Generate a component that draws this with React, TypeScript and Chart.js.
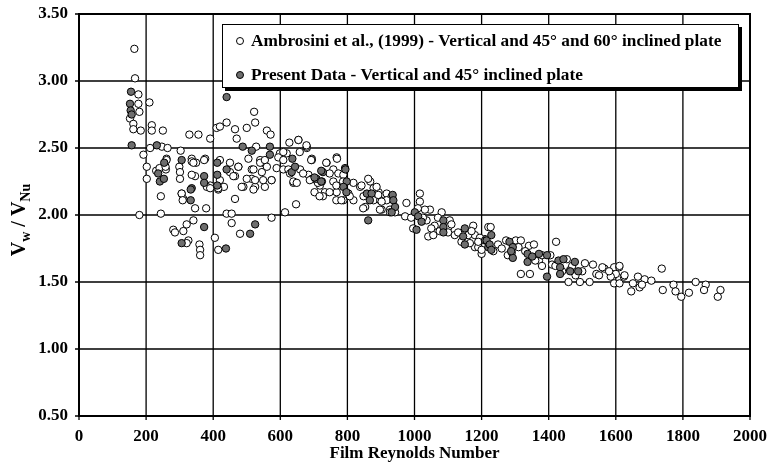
import React, { useEffect, useRef } from "react";
import { Chart, registerables } from "chart.js";

Chart.register(...registerables);

// Ambrosini et al. (1999) data: [Film Reynolds Number, Vw/VNu]
const ambrosiniRe: number[] = [];
const ambrosiniV: number[] = [];
const ambrosiniPairs: [number, number][] = [
  [165,3.24],[167,3.02],[177,2.90],[177,2.83],[180,2.77],[152,2.72],[162,2.68],[162,2.64],[184,2.63],[210,2.84],
  [217,2.67],[217,2.63],[250,2.63],[192,2.45],[212,2.50],[202,2.36],[202,2.27],[180,2.00],[244,2.01],[244,2.14],
  [230,2.33],[240,2.35],[261,2.42],[247,2.51],[264,2.50],[259,2.34],[303,2.48],[299,2.36],[301,2.32],[301,2.27],
  [329,2.60],[356,2.60],[336,2.42],[349,2.39],[376,2.42],[346,2.29],[306,2.16],[311,2.12],[346,2.05],[379,2.05],
  [391,2.22],[391,2.57],[410,2.65],[420,2.66],[440,2.69],[465,2.64],[470,2.57],[500,2.65],[522,2.77],[525,2.69],
  [560,2.63],[571,2.60],[420,2.41],[415,2.19],[432,2.21],[465,2.12],[440,2.01],[455,2.01],[455,1.94],[450,2.32],
  [475,2.36],[465,2.29],[490,2.21],[505,2.42],[515,2.34],[515,2.27],[525,2.21],[528,2.51],[540,2.41],[549,2.39],
  [545,2.32],[554,2.21],[574,2.26],[599,2.46],[619,2.46],[589,2.35],[609,2.34],[627,2.54],[654,2.56],[614,2.02],
  [647,2.08],[639,2.24],[679,2.50],[694,2.42],[281,1.89],[286,1.87],[311,1.88],[321,1.93],[341,1.96],[326,1.81],
  [321,1.79],[359,1.78],[361,1.74],[361,1.70],[405,1.83],[415,1.74],[480,1.86],[574,1.98],
  [258,2.36],[261,2.41],[306,2.16],[309,2.11],[336,2.30],[336,2.40],[341,2.39],[373,2.41],[381,2.21],[391,2.20],
  [415,2.20],[420,2.26],[450,2.39],[460,2.29],[485,2.21],[475,2.36],[500,2.27],[520,2.34],[525,2.26],[520,2.19],
  [549,2.26],[540,2.39],[554,2.41],[560,2.36],[574,2.26],[594,2.43],[609,2.41],[609,2.47],[624,2.34],[629,2.31],
  [639,2.25],[649,2.24],[654,2.56],[679,2.51],[694,2.41],[659,2.34],[684,2.30],[694,2.27],[708,2.26],[718,2.22],
  [733,2.17],[738,2.39],[768,2.43],[758,2.34],[773,2.31],[788,2.30],[758,2.25],[768,2.17],[788,2.11],[818,2.24],
  [838,2.21],[803,2.16],[818,2.11],[848,2.14],[868,2.25],[878,2.20],[893,2.17],[853,2.06],[878,2.11],[898,2.11],
  [917,2.16],[932,2.14],[902,2.04],[927,2.04],[942,2.02],
  [678,2.52],[692,2.41],[737,2.39],[769,2.42],[658,2.47],[668,2.31],[688,2.26],[712,2.24],[702,2.17],[727,2.14],
  [717,2.14],[747,2.17],[747,2.31],[767,2.22],[767,2.11],[782,2.11],[787,2.25],[807,2.14],[842,2.22],[862,2.27],
  [847,2.05],[887,2.21],[892,2.15],[897,2.04],[917,2.11],[927,2.02],[902,2.10],[976,2.09],[972,1.99],[996,1.90],
  [1016,2.16],[1016,2.10],[1046,2.04],[1036,1.96],[1041,1.84],[1056,1.85],[1031,2.04],[1081,2.02],[1105,1.96],[1120,1.85],
  [1101,1.91],[1175,1.92],[1180,1.85],[1160,1.85],[1180,1.76],[1200,1.71],[1220,1.91],[1210,1.82],
  [1000,2.00],[1025,1.98],[1060,1.92],[1075,1.88],[1110,1.93],[1130,1.87],[1140,1.80],[1165,1.79],[1190,1.76],[1195,1.83],
  [1010,2.05],[990,1.98],[1070,1.98],[1050,1.90],[1100,1.87],[1170,1.88],[1190,1.80],
  [1227,1.91],[1200,1.74],[1249,1.78],[1273,1.81],[1278,1.70],[1302,1.81],[1317,1.81],[1341,1.77],[1356,1.78],[1422,1.80],
  [1317,1.56],[1344,1.56],[1371,1.66],[1380,1.70],[1405,1.70],[1410,1.63],[1459,1.50],[1493,1.50],[1522,1.50],[1508,1.64],
  [1532,1.63],[1542,1.56],[1566,1.60],[1595,1.61],[1610,1.61],[1600,1.56],[1624,1.54],[1585,1.54],[1595,1.49],[1454,1.67],
  [1464,1.59],[1235,1.73],[1260,1.75],[1290,1.72],[1310,1.76],[1330,1.73],[1360,1.66],[1380,1.62],[1420,1.62],[1440,1.58],
  [1470,1.62],[1480,1.55],[1500,1.58],[1550,1.55],[1560,1.61],[1580,1.58],
  [1611,1.62],[1626,1.55],[1611,1.49],[1651,1.49],[1646,1.43],[1666,1.54],[1671,1.46],[1686,1.52],[1678,1.48],[1706,1.51],
  [1737,1.60],[1740,1.44],[1772,1.48],[1778,1.43],[1795,1.39],[1818,1.42],[1838,1.50],[1868,1.48],[1863,1.44],[1912,1.44],
  [1904,1.39],
];
ambrosiniPairs.forEach(([r, v]) => { ambrosiniRe.push(r); ambrosiniV.push(v); });

// Present data: [Film Reynolds Number, Vw/VNu]
const presentRe: number[] = [];
const presentV: number[] = [];
const presentPairs: [number, number][] = [
  [155,2.92],[152,2.83],[154,2.78],[157,2.75],[157,2.52],[232,2.52],[241,2.25],[253,2.27],[254,2.39],[236,2.31],
  [306,2.41],[336,2.20],[333,2.11],[373,2.29],[373,2.24],[412,2.39],[412,2.30],[412,2.22],[440,2.88],[440,2.34],
  [488,2.51],[515,2.48],[569,2.51],[569,2.45],[636,2.42],[634,2.32],[644,2.36],[708,2.27],[727,2.32],[724,2.25],
  [793,2.35],[798,2.25],[788,2.21],[862,1.96],[858,2.16],[872,2.16],[867,2.11],[935,2.15],[937,2.11],[942,2.06],
  [932,2.02],[306,1.79],[438,1.75],[510,1.86],[373,1.91],[525,1.93],[333,2.19],
  [702,2.28],[722,2.33],[722,2.25],[794,2.34],[797,2.17],[1001,2.02],[1011,1.99],[1021,1.95],[1006,1.89],
  [1086,1.96],[1086,1.91],[1086,1.87],[1150,1.90],[1145,1.84],[1150,1.78],[1210,1.81],[1220,1.76],
  [1215,1.81],[1229,1.85],[1224,1.78],[1229,1.74],[1283,1.80],[1293,1.76],[1293,1.68],[1288,1.73],
  [1337,1.71],[1337,1.65],[1351,1.69],[1371,1.71],[1395,1.70],[1395,1.54],[1429,1.66],[1434,1.61],[1434,1.56],[1444,1.67],
  [1464,1.58],[1478,1.65],[1488,1.58],
];
presentPairs.forEach(([r, v]) => { presentRe.push(r); presentV.push(v); });

const xTicks = [0, 200, 400, 600, 800, 1000, 1200, 1400, 1600, 1800, 2000];
const yTicks = [0.5, 1.0, 1.5, 2.0, 2.5, 3.0, 3.5];

const legendLabels = [
  "Ambrosini et al., (1999) - Vertical and 45\u00B0 and 60\u00B0 inclined plate",
  "Present Data - Vertical and 45\u00B0 inclined plate",
];
const xTitle = "Film Reynolds Number";

const SERIF = "'Liberation Serif', 'Times New Roman', serif";
const FILL_GRAY = "#6e6e6e";

// Grid lines drawn under the data from the chart's own scales
const gridPlugin = {
  id: "gridUnder",
  beforeDatasetsDraw(chart: any) {
    const ctx = chart.ctx as CanvasRenderingContext2D;
    const area = chart.chartArea;
    const xs = chart.scales.x;
    const ys = chart.scales.y;
    ctx.save();
    ctx.strokeStyle = "#000";
    ctx.lineWidth = 1.3;
    ctx.beginPath();
    xTicks.forEach((v) => {
      const px = xs.getPixelForValue(v);
      ctx.moveTo(px, area.top);
      ctx.lineTo(px, area.bottom + 4);
    });
    yTicks.forEach((v) => {
      const py = ys.getPixelForValue(v);
      ctx.moveTo(area.left - 4, py);
      ctx.lineTo(area.right, py);
    });
    ctx.stroke();
    ctx.restore();
  },
};

const overlayPlugin = {
  id: "overlay",
  afterDraw(chart: any) {
    const ctx = chart.ctx as CanvasRenderingContext2D;
    const area = chart.chartArea;
    ctx.save();
    // Border box
    ctx.strokeStyle = "#000";
    ctx.lineWidth = 2;
    ctx.strokeRect(area.left, area.top, area.right - area.left, area.bottom - area.top);

    // Legend box
    const lx = 222, ly = 24, lw = 517, lh = 64;
    ctx.fillStyle = "#000";
    ctx.fillRect(lx + 3, ly + 3, lw, lh);
    ctx.fillStyle = "#fff";
    ctx.fillRect(lx, ly, lw, lh);
    ctx.strokeStyle = "#000";
    ctx.lineWidth = 1;
    ctx.strokeRect(lx + 0.5, ly + 0.5, lw - 1, lh - 1);

    ctx.font = `bold 17.3px ${SERIF}`;
    ctx.textBaseline = "middle";
    ctx.textAlign = "left";
    const rows = [41, 75];
    rows.forEach((y, i) => {
      ctx.beginPath();
      ctx.arc(240, y, 3.5, 0, Math.PI * 2);
      ctx.fillStyle = i === 0 ? "#fff" : FILL_GRAY;
      ctx.fill();
      ctx.lineWidth = 1;
      ctx.strokeStyle = "#000";
      ctx.stroke();
      ctx.fillStyle = "#000";
      ctx.fillText(legendLabels[i], 251, y + 1);
    });

    // X axis title
    ctx.textAlign = "center";
    ctx.textBaseline = "middle";
    ctx.font = `bold 17px ${SERIF}`;
    ctx.fillText(xTitle, (area.left + area.right) / 2, 454);

    // Y axis title with subscripts
    ctx.translate(25, 220);
    ctx.rotate(-Math.PI / 2);
    ctx.textBaseline = "alphabetic";
    ctx.textAlign = "left";
    const big = `bold 20px ${SERIF}`;
    const small = `bold 14px ${SERIF}`;
    const parts: [string, string, number][] = [
      ["V", big, 0],
      ["w", small, 5],
      [" / ", big, 0],
      ["V", big, 0],
      ["Nu", small, 5],
    ];
    let total = 0;
    parts.forEach(([t, f]) => { ctx.font = f; total += ctx.measureText(t).width; });
    let cx = -total / 2;
    parts.forEach(([t, f, dy]) => {
      ctx.font = f;
      ctx.fillText(t, cx, dy);
      cx += ctx.measureText(t).width;
    });
    ctx.restore();
  },
};

export default function App() {
  const ref = useRef<HTMLCanvasElement | null>(null);

  useEffect(() => {
    document.body.style.margin = "0";
    const canvas = ref.current;
    if (!canvas) return;
    const chart = new Chart(canvas, {
      type: "scatter",
      data: {
        datasets: [
          {
            label: legendLabels[0],
            data: ambrosiniRe.map((r, i) => ({ x: r, y: ambrosiniV[i] })),
            backgroundColor: "#fff",
            borderColor: "#000",
            borderWidth: 1,
            pointRadius: 3.7,
            order: 2,
          },
          {
            label: legendLabels[1],
            data: presentRe.map((r, i) => ({ x: r, y: presentV[i] })),
            backgroundColor: FILL_GRAY,
            borderColor: "#000",
            borderWidth: 1,
            pointRadius: 3.7,
            order: 1,
          },
        ],
      },
      options: {
        animation: false,
        responsive: false,
        maintainAspectRatio: false,
        layout: { padding: { left: 0, right: 20, top: 14, bottom: 0 } },
        plugins: {
          legend: { display: false },
          tooltip: { enabled: false },
          title: { display: false },
        },
        scales: {
          x: {
            type: "linear",
            min: 0,
            max: 2000,
            afterBuildTicks: (scale: any) => {
              scale.ticks = xTicks.map((v) => ({ value: v }));
            },
            afterFit: (scale: any) => {
              scale.height = 48;
              scale.paddingLeft = 0;
              scale.paddingRight = 0;
            },
            grid: { display: false, tickLength: 4 },
            border: { display: false },
            ticks: {
              color: "#000",
              font: { family: SERIF, size: 17, weight: "bold" },
              padding: 6,
              maxRotation: 0,
              autoSkip: false,
              callback: (v: any) => String(v),
            },
          },
          y: {
            type: "linear",
            min: 0.5,
            max: 3.5,
            afterBuildTicks: (scale: any) => {
              scale.ticks = yTicks.map((v) => ({ value: v }));
            },
            afterFit: (scale: any) => {
              scale.width = 79;
              scale.paddingTop = 0;
              scale.paddingBottom = 0;
            },
            grid: { display: false, tickLength: 4 },
            border: { display: false },
            ticks: {
              color: "#000",
              font: { family: SERIF, size: 17, weight: "bold" },
              padding: 7,
              autoSkip: false,
              callback: (v: any) => Number(v).toFixed(2),
            },
          },
        },
      },
      plugins: [gridPlugin, overlayPlugin],
    } as any);
    return () => chart.destroy();
  }, []);

  return (
    <div style={{ width: 770, height: 464, background: "#fff" }}>
      <canvas ref={ref} width={770} height={464} style={{ display: "block" }} />
    </div>
  );
}
